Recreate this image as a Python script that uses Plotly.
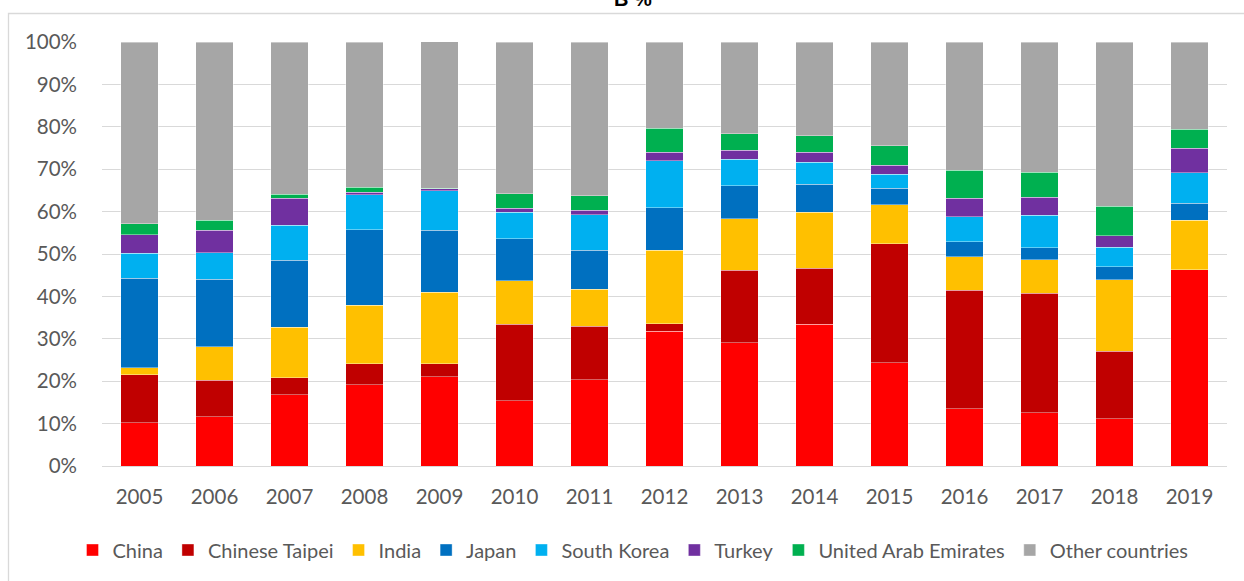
import plotly.graph_objects as go

years = [str(y) for y in range(2005, 2020)]

china = [10.2, 11.6, 16.8, 19.2, 21.0, 15.4, 20.4, 31.8, 29.1, 33.4, 24.4, 13.5, 12.6, 11.2, 46.3]
chinese_taipei = [11.3, 8.6, 4.0, 4.9, 3.1, 18.0, 12.6, 1.7, 17.1, 13.2, 28.0, 27.9, 28.2, 15.9, 0.0]
india = [1.7, 7.9, 11.9, 13.8, 16.9, 10.3, 8.7, 17.4, 12.1, 13.2, 9.2, 8.0, 7.9, 16.8, 11.7]
japan = [21.1, 15.9, 15.8, 17.8, 14.6, 9.9, 9.2, 10.0, 7.8, 6.6, 3.9, 3.5, 2.8, 3.1, 4.0]
south_korea = [5.9, 6.3, 8.3, 8.3, 9.3, 6.2, 8.3, 11.1, 6.3, 5.2, 3.3, 5.9, 7.6, 4.6, 7.2]
turkey = [4.4, 5.3, 6.3, 0.6, 0.5, 1.0, 1.1, 2.0, 2.1, 2.4, 2.1, 4.3, 4.3, 2.7, 5.8]
uae = [2.5, 2.4, 1.0, 1.1, 0.1, 3.4, 3.4, 5.7, 3.9, 3.9, 4.6, 6.7, 5.9, 7.0, 4.4]
other = [42.9, 42.0, 35.9, 34.3, 34.6, 35.8, 36.3, 20.3, 21.6, 22.1, 24.5, 30.2, 30.7, 38.7, 20.6]

series_names = ["China", "Chinese Taipei", "India", "Japan", "South Korea",
                "Turkey", "United Arab Emirates", "Other countries"]
series_values = [china, chinese_taipei, india, japan, south_korea, turkey, uae, other]
series_colors = ["#FF0000", "#C00000", "#FFC000", "#0070C0", "#00B0F0",
                 "#7030A0", "#00B050", "#A6A6A6"]

y_ticks = [0, 10, 20, 30, 40, 50, 60, 70, 80, 90, 100]
y_tick_text = [f"{v}%" for v in y_ticks]

W, H = 1244, 581
M = dict(l=102, r=17, t=42, b=115)
pw = W - M["l"] - M["r"]
ph = H - M["t"] - M["b"]

def px_x(x):  # x in window pixels
    return (x - M["l"]) / pw

def px_y(y):  # y in window pixels
    return (H - M["b"] - y) / ph

FONT = "Lato, 'Open Sans', 'Liberation Sans', sans-serif"
GREY_TXT = "#595959"

fig = go.Figure()
for name, vals, col in zip(series_names, series_values, series_colors):
    fig.add_trace(go.Bar(
        x=years, y=vals, name=name,
        marker=dict(color=col, line=dict(color="rgba(255,255,255,0.55)", width=0.7)),
    ))

fig.update_layout(
    width=W, height=H,
    margin=dict(M, autoexpand=False),
    barmode="stack",
    bargap=0.5,
    plot_bgcolor="white",
    paper_bgcolor="white",
    font=dict(family=FONT, size=20, color=GREY_TXT),
    showlegend=True,
    legend=dict(
        orientation="h", xref="container", yref="container",
        x=633 / W, y=1 - 550 / H, xanchor="center", yanchor="middle",
        traceorder="normal", font=dict(family=FONT, size=20, color=GREY_TXT),
        itemwidth=30, bgcolor="rgba(0,0,0,0)",
    ),
    xaxis=dict(
        type="category", showgrid=False, showline=False, zeroline=False,
        ticks="", ticklabelstandoff=16, automargin=False,
        tickfont=dict(family=FONT, size=20.5, color=GREY_TXT),
    ),
    yaxis=dict(
        range=[0, 100], tickvals=y_ticks, ticktext=y_tick_text,
        showgrid=True, gridcolor="#D9D9D9", gridwidth=1.3,
        zeroline=True, zerolinecolor="#D9D9D9", zerolinewidth=1.3,
        showline=False, ticks="", ticklabelstandoff=24, automargin=False,
        tickfont=dict(family=FONT, size=20.5, color=GREY_TXT),
    ),
    shapes=[dict(
        type="rect", xref="paper", yref="paper",
        x0=px_x(8.5), x1=px_x(1250), y0=px_y(590), y1=px_y(13.5),
        line=dict(color="#D9D9D9", width=1.3), fillcolor="rgba(0,0,0,0)", layer="below",
    )],
    annotations=[dict(
        text="<b>B %</b>", xref="paper", yref="paper",
        x=px_x(633), y=px_y(-1), xanchor="center", yanchor="middle",
        showarrow=False, font=dict(family="Liberation Sans, Arial, sans-serif", size=20, color="#000000"),
    )],
)

fig.write_html(
    "out.html",
    config={"displayModeBar": False},
    post_script="document.body.style.margin='0'; document.body.style.overflow='hidden';",
)
